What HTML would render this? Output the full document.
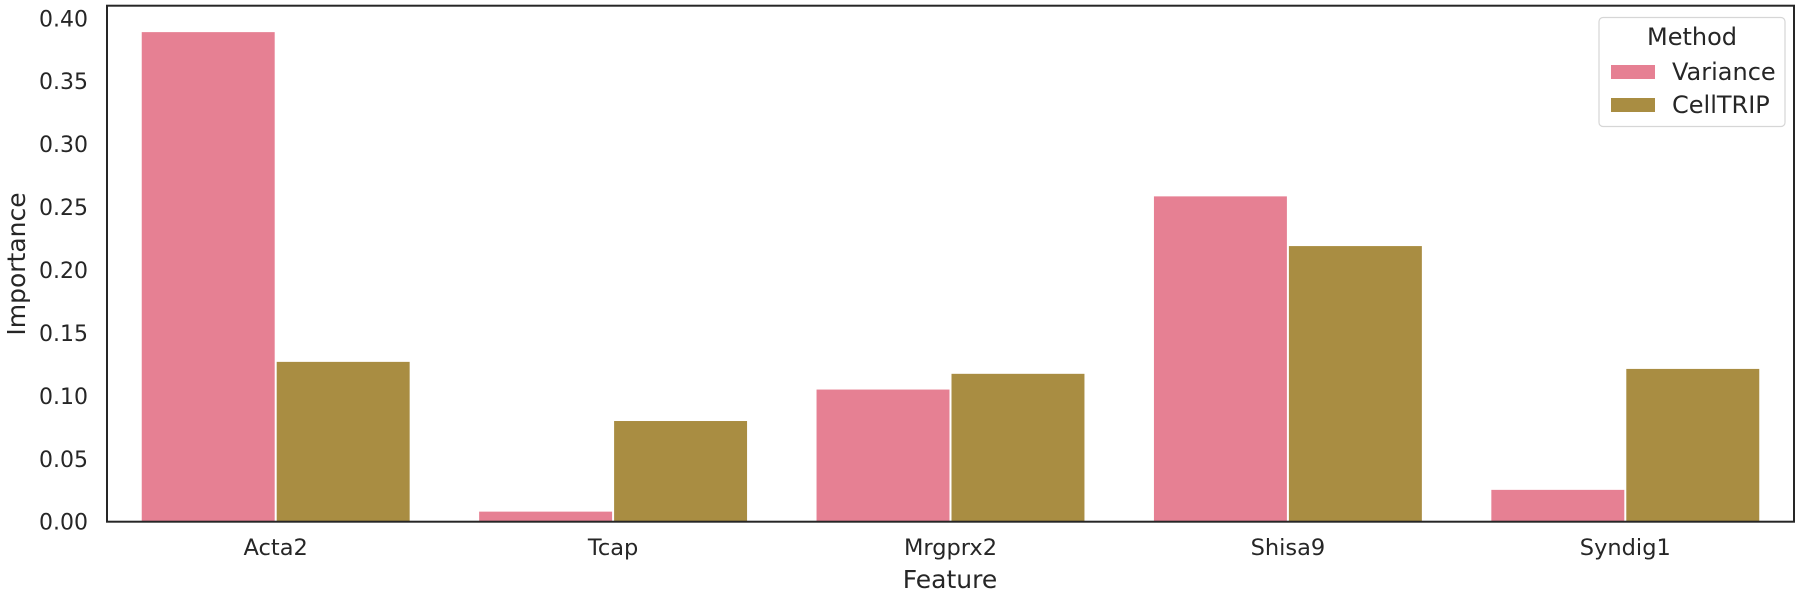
<!DOCTYPE html>
<html><head><meta charset="utf-8"><style>
body{margin:0;background:#fff;}
svg{display:block;font-family:"DejaVu Sans","Liberation Sans",sans-serif;}
</style></head><body>
<svg id="chart" width="1801" height="600" viewBox="0 0 1801 600"></svg>
<script>
const categories = ["Acta2","Tcap","Mrgprx2","Shisa9","Syndig1"];
const seriesNames = ["Variance","CellTRIP"];
const varianceValues = [0.389, 0.008, 0.105, 0.2585, 0.0253];
const celltripValues = [0.127, 0.080, 0.1175, 0.219, 0.1214];
const yTicks = [0, 0.05, 0.10, 0.15, 0.20, 0.25, 0.30, 0.35, 0.40];
const yTickLabels = ["0.00","0.05","0.10","0.15","0.20","0.25","0.30","0.35","0.40"];
const colors = ["#e68093","#a98d42"];

const NS = "http://www.w3.org/2000/svg";
const svg = document.getElementById("chart");
const L = 107, R = 1794, T = 5.7, B = 521.7, YMAX = 0.410;
function y(v){ return B - v / YMAX * (B - T); }
const step = (R - L) / categories.length;
function xc(i){ return L + step * (i + 0.5); }
function mk(tag, attrs, parent){
  const e = document.createElementNS(NS, tag);
  for (const k in attrs) e.setAttribute(k, attrs[k]);
  (parent || svg).appendChild(e);
  return e;
}
const allSeries = [varianceValues, celltripValues];
const barW = step * 0.8 / 2;
allSeries.forEach((vals, s) => {
  vals.forEach((v, i) => {
    const x0 = xc(i) - step * 0.4 + s * barW;
    const r = mk("rect", {x: x0 + 1, y: y(v), width: barW - 2, height: B - y(v), fill: colors[s]});
    
    
  });
});
yTicks.forEach((t, i) => {
  const tx = mk("text", {x: 88, y: y(t) + 8, "text-anchor": "end", "font-size": 22, fill: "#262626"});
  tx.textContent = yTickLabels[i];
  
  
});
categories.forEach((c, i) => {
  const tx = mk("text", {x: xc(i), y: 555, "text-anchor": "middle", "font-size": 22.5, fill: "#262626"});
  tx.textContent = c;
  
  
});
const frame = mk("rect", {x: L, y: T, width: R - L, height: B - T, fill: "none", stroke: "#262626", "stroke-width": 2});


</script>
<svg style="position:absolute;left:0;top:0" width="1801" height="600">
<text x="950" y="588" text-anchor="middle" font-size="25" fill="#262626" font-family="DejaVu Sans, Liberation Sans, sans-serif">Feature</text>
<text transform="translate(25,264) rotate(-90)" text-anchor="middle" font-size="25" fill="#262626" font-family="DejaVu Sans, Liberation Sans, sans-serif">Importance</text>
<g font-family="DejaVu Sans, Liberation Sans, sans-serif">
<rect x="1599" y="17.5" width="186" height="109" rx="4" fill="#fff" stroke="#d6d6d6" stroke-width="1.2"/>
<text x="1692" y="45" text-anchor="middle" font-size="24" fill="#262626">Method</text>
<rect x="1611" y="65" width="44" height="14" fill="#e68093"/>
<text x="1672" y="80" font-size="24" fill="#262626">Variance</text>
<rect x="1611" y="98" width="44" height="14" fill="#a98d42"/>
<text x="1672" y="113" font-size="24" fill="#262626">CellTRIP</text>
</g>
</svg>
</body></html>
